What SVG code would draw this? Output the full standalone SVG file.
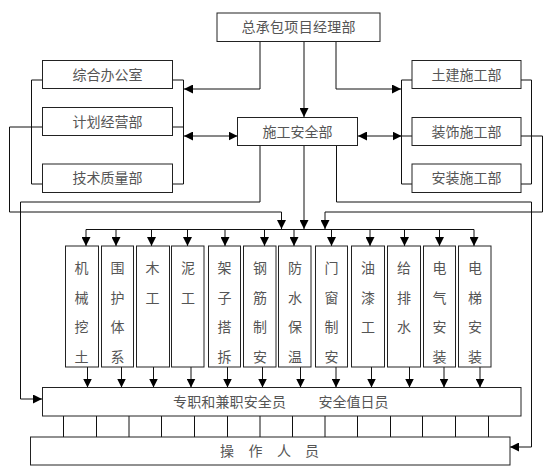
<svg xmlns="http://www.w3.org/2000/svg" width="555" height="473" viewBox="0 0 555 473">
<defs>
<style>
.box{fill:#fff;stroke:#222;stroke-width:1}
.ln{fill:none;stroke:#111;stroke-width:1}
.t{font-family:"Noto Sans CJK SC","Liberation Sans",sans-serif;font-size:14px;fill:#555;text-anchor:middle}
.ts{font-family:"Noto Sans CJK SC","Liberation Sans",sans-serif;font-size:14px;fill:#555}
.a{marker-end:url(#ah)}
.aa{marker-end:url(#ah);marker-start:url(#ah)}
</style>
<marker id="ah" viewBox="0 0 10 10" refX="10" refY="5" markerWidth="9" markerHeight="9" markerUnits="userSpaceOnUse" orient="auto-start-reverse">
<path d="M0,0 L10,5 L0,10 z" fill="#000"/>
</marker>
</defs>
<rect width="555" height="473" fill="#fff"/>

<g id="connectors">
<path class="ln a" d="M304,41 V117"/>
<path class="ln a" d="M260,41 V89 H184"/>
<path class="ln a" d="M336,41 V89 H401"/>
<path class="ln aa" d="M184,136 H237.5"/>
<path class="ln aa" d="M358,136 H401.5"/>
<path class="ln" d="M42,80 H31.5 V184 H42"/>
<path class="ln" d="M173,80 H183.5 V184 H173 M173,127 H183.5"/>
<path class="ln" d="M412,80 H401.5 V184 H412 M401.5,136 H412"/>
<path class="ln" d="M521,80 H531.5 V184 H521"/>
<path class="ln a" d="M260,145 V202 H20.5 V399 H42"/>
<path class="ln a" d="M336.5,145 V202 H531.5 V447 H510"/>
<path class="ln a" d="M42,127 H9.5 V212 H281.5 V229"/>
<path class="ln a" d="M521,136 H542.5 V212 H325 V229"/>
<path class="ln a" d="M304,145 V229"/>
<path class="ln" d="M86,229.5 H474"/>
<path class="ln a" d="M86,229.5 V246"/>
<path class="ln a" d="M116,229.5 V246"/>
<path class="ln a" d="M151.5,229.5 V246"/>
<path class="ln a" d="M187.5,229.5 V246"/>
<path class="ln a" d="M225,229.5 V246"/>
<path class="ln a" d="M264.5,229.5 V246"/>
<path class="ln a" d="M294,229.5 V246"/>
<path class="ln a" d="M331.5,229.5 V246"/>
<path class="ln a" d="M370,229.5 V246"/>
<path class="ln a" d="M404.5,229.5 V246"/>
<path class="ln a" d="M439.5,229.5 V246"/>
<path class="ln a" d="M474,229.5 V246"/>
<path class="ln a" d="M87.5,367 V387.5"/>
<path class="ln a" d="M121.5,367 V387.5"/>
<path class="ln a" d="M153.5,367 V387.5"/>
<path class="ln a" d="M191,367 V387.5"/>
<path class="ln a" d="M227.5,367 V387.5"/>
<path class="ln a" d="M262.5,367 V387.5"/>
<path class="ln a" d="M300.5,367 V387.5"/>
<path class="ln a" d="M336,367 V387.5"/>
<path class="ln a" d="M371.5,367 V387.5"/>
<path class="ln a" d="M409.5,367 V387.5"/>
<path class="ln a" d="M444,367 V387.5"/>
<path class="ln a" d="M480,367 V387.5"/>
<path class="ln" d="M63.5,416 V437 M96.5,416 V437 M129,416 V437 M161.5,416 V437 M194.5,416 V437 M227.5,416 V437 M260,416 V437 M292.5,416 V437 M325,416 V437 M357.5,416 V437 M390.5,416 V437 M422.5,416 V437 M455.5,416 V437 M488.5,416 V437"/>
</g>

<g id="n-top"><rect class="box" x="217" y="13" width="163" height="28.5"/><text class="t" x="298.5" y="32" textLength="114">总承包项目经理部</text></g>
<g id="n-zhbgs"><rect class="box" x="42.5" y="60.5" width="130" height="28"/><text class="t" x="107.5" y="79.5">综合办公室</text></g>
<g id="n-jhjy"><rect class="box" x="42.5" y="107.5" width="130" height="28"/><text class="t" x="107.5" y="126.5">计划经营部</text></g>
<g id="n-jszl"><rect class="box" x="42.5" y="164" width="130" height="28.5"/><text class="t" x="107.5" y="183">技术质量部</text></g>
<g id="n-sgaq"><rect class="box" x="237.5" y="117.5" width="120" height="28"/><text class="t" x="297.5" y="136.5">施工安全部</text></g>
<g id="n-tj"><rect class="box" x="412" y="60.5" width="109" height="28"/><text class="t" x="466.5" y="79.5">土建施工部</text></g>
<g id="n-zs"><rect class="box" x="412" y="117.5" width="109" height="28"/><text class="t" x="466.5" y="136.5">装饰施工部</text></g>
<g id="n-az"><rect class="box" x="412" y="164" width="109" height="28.5"/><text class="t" x="466.5" y="183">安装施工部</text></g>

<g id="c1"><rect class="box" x="65.5" y="246" width="33" height="121"/><text class="t"><tspan x="81.5" y="273">机</tspan><tspan x="81.5" y="303">械</tspan><tspan x="81.5" y="332">挖</tspan><tspan x="81.5" y="362">土</tspan></text></g>
<g id="c2"><rect class="box" x="101.5" y="246" width="32" height="121"/><text class="t"><tspan x="117.5" y="273">围</tspan><tspan x="117.5" y="303">护</tspan><tspan x="117.5" y="332">体</tspan><tspan x="117.5" y="362">系</tspan></text></g>
<g id="c3"><rect class="box" x="136.5" y="246" width="33" height="121"/><text class="t"><tspan x="152.5" y="273">木</tspan><tspan x="152.5" y="303">工</tspan></text></g>
<g id="c4"><rect class="box" x="171.5" y="246" width="32.5" height="121"/><text class="t"><tspan x="188" y="273">泥</tspan><tspan x="188" y="303">工</tspan></text></g>
<g id="c5"><rect class="box" x="208.5" y="246" width="32" height="121"/><text class="t"><tspan x="224.5" y="273">架</tspan><tspan x="224.5" y="303">子</tspan><tspan x="224.5" y="332">搭</tspan><tspan x="224.5" y="362">拆</tspan></text></g>
<g id="c6"><rect class="box" x="243.5" y="246" width="32.5" height="121"/><text class="t"><tspan x="260" y="273">钢</tspan><tspan x="260" y="303">筋</tspan><tspan x="260" y="332">制</tspan><tspan x="260" y="362">安</tspan></text></g>
<g id="c7"><rect class="box" x="278.5" y="246" width="32.5" height="121"/><text class="t"><tspan x="295" y="273">防</tspan><tspan x="295" y="303">水</tspan><tspan x="295" y="332">保</tspan><tspan x="295" y="362">温</tspan></text></g>
<g id="c8"><rect class="box" x="315.5" y="246" width="32" height="121"/><text class="t"><tspan x="331.5" y="273">门</tspan><tspan x="331.5" y="303">窗</tspan><tspan x="331.5" y="332">制</tspan><tspan x="331.5" y="362">安</tspan></text></g>
<g id="c9"><rect class="box" x="351.5" y="246" width="33" height="121"/><text class="t"><tspan x="368" y="273">油</tspan><tspan x="368" y="303">漆</tspan><tspan x="368" y="332">工</tspan></text></g>
<g id="c10"><rect class="box" x="387.5" y="246" width="33" height="121"/><text class="t"><tspan x="404" y="273">给</tspan><tspan x="404" y="303">排</tspan><tspan x="404" y="332">水</tspan></text></g>
<g id="c11"><rect class="box" x="423.5" y="246" width="32" height="121"/><text class="t"><tspan x="439.5" y="273">电</tspan><tspan x="439.5" y="303">气</tspan><tspan x="439.5" y="332">安</tspan><tspan x="439.5" y="362">装</tspan></text></g>
<g id="c12"><rect class="box" x="458.5" y="246" width="32.5" height="121"/><text class="t"><tspan x="475" y="273">电</tspan><tspan x="475" y="303">梯</tspan><tspan x="475" y="332">安</tspan><tspan x="475" y="362">装</tspan></text></g>

<g id="n-aqy"><rect class="box" x="42.5" y="387.5" width="478.5" height="28.5"/><text class="ts" x="173" y="407" textLength="113">专职和兼职安全员</text><text class="ts" x="318.5" y="407" textLength="70">安全值日员</text></g>
<g id="n-czry"><rect class="box" x="30.5" y="437" width="479.5" height="28"/><text class="ts" x="220 248.5 277 305" y="456">操作人员</text></g>
</svg>
